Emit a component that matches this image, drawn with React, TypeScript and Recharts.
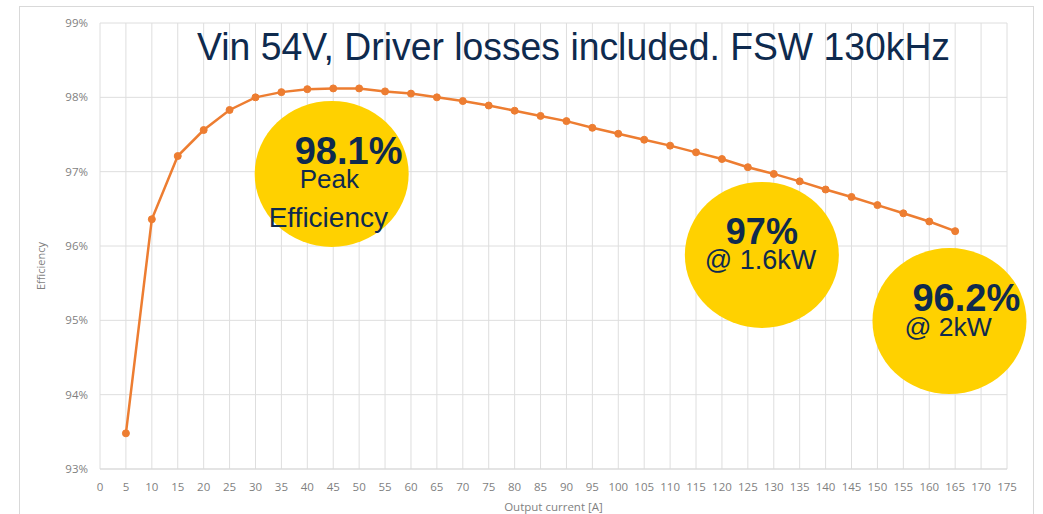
import React from 'react';
import { LineChart, Line, XAxis, YAxis, CartesianGrid, ReferenceDot, Label } from 'recharts';

// output current [A]
const currents = [5, 10, 15, 20, 25, 30, 35, 40, 45, 50, 55, 60, 65, 70, 75, 80, 85, 90, 95, 100, 105, 110, 115, 120, 125, 130, 135, 140, 145, 150, 155, 160, 165];
// efficiency [%]
const efficiency = [93.48, 96.36, 97.21, 97.56, 97.83, 98.0, 98.07, 98.11, 98.12, 98.12, 98.08, 98.05, 98.0, 97.95, 97.89, 97.82, 97.75, 97.68, 97.59, 97.51, 97.43, 97.35, 97.26, 97.17, 97.06, 96.97, 96.87, 96.76, 96.66, 96.55, 96.44, 96.33, 96.2];

const xTicks = [0, 5, 10, 15, 20, 25, 30, 35, 40, 45, 50, 55, 60, 65, 70, 75, 80, 85, 90, 95, 100, 105, 110, 115, 120, 125, 130, 135, 140, 145, 150, 155, 160, 165, 170, 175];
const yTicks = [93, 94, 95, 96, 97, 98, 99];

const title = 'Vin 54V, Driver losses included. FSW 130kHz';

// yellow call-out bubbles, anchored in data coordinates
const callouts = [
  {
    x: 44.7, y: 96.97,
    lines: [
      { text: '98.1%', dx: -37, dy: -10, size: 38, bold: true },
      { text: 'Peak', dx: -32, dy: 14, size: 26, bold: false },
      { text: 'Efficiency', dx: -63, dy: 53, size: 28, bold: false },
    ],
  },
  {
    x: 127.7, y: 95.88,
    lines: [
      { text: '97%', dx: -36, dy: -11, size: 36, bold: true },
      { text: '@ 1.6kW', dx: -57, dy: 14, size: 27, bold: false },
    ],
  },
  {
    x: 163.9, y: 94.99,
    lines: [
      { text: '96.2%', dx: -37, dy: -10, size: 38, bold: true },
      { text: '@ 2kW', dx: -45, dy: 15, size: 26.5, bold: false },
    ],
  },
];

const NAVY = '#0E2A4E';
const YELLOW = '#FFD100';
const AXIS_TEXT = '#7F7F7F';

const Bubble = ({ cx, cy, lines }) => {
  if (cx == null || cy == null) return null;
  return (
    <g>
      <ellipse cx={cx} cy={cy} rx={77} ry={73} fill={YELLOW} />
      {lines.map((l, i) => (
        <text
          key={i}
          x={cx + l.dx}
          y={cy + l.dy}
          fontSize={l.size}
          fontWeight={l.bold ? 'bold' : 'normal'}
          fontFamily="'Liberation Sans', Arial, sans-serif"
          fill={NAVY}
        >
          {l.text}
        </text>
      ))}
    </g>
  );
};

export default function App() {
  const data = currents.map((c, i) => ({ current: c, eff: efficiency[i] }));

  const tickStyle = { fill: AXIS_TEXT, fontSize: 11.5, fontFamily: "'Open Sans', sans-serif" };

  return (
    <div style={{ position: 'absolute', left: 0, top: 0, width: 1043, height: 514, background: '#fff', overflow: 'hidden' }}>
      <div style={{
        position: 'absolute', left: 19, top: 6, width: 1015, height: 530,
        border: '1px solid #D9D9D9', boxSizing: 'border-box'
      }} />
      <div style={{ position: 'absolute', left: 0, top: 0 }}>
        <LineChart
          width={1043}
          height={514}
          data={data}
          margin={{ top: 23, right: 36, bottom: 0, left: 20 }}
        >
          <CartesianGrid stroke="#DEDEDE" strokeWidth={1} />
          <XAxis
            dataKey="current"
            type="number"
            domain={[0, 175]}
            ticks={xTicks}
            interval={0}
            tickLine={false}
            axisLine={{ stroke: '#D9D9D9' }}
            tick={tickStyle}
            tickMargin={8}
            height={45}
          >
            <Label
              value="Output current [A]"
              position="insideBottom"
              offset={3}
              fill={AXIS_TEXT}
              fontSize={11.5}
              fontFamily="'Open Sans', sans-serif"
            />
          </XAxis>
          <YAxis
            type="number"
            domain={[93, 99]}
            ticks={yTicks}
            interval={0}
            tickFormatter={(v) => `${v}%`}
            tickLine={false}
            axisLine={false}
            tick={tickStyle}
            tickMargin={6}
            width={80}
          >
            <Label
              content={({ viewBox }) => {
                const lx = viewBox.x + 20;
                const ly = viewBox.y + viewBox.height / 2 + 20;
                return (
                  <text
                    x={lx}
                    y={ly}
                    transform={`rotate(-90 ${lx} ${ly})`}
                    textAnchor="middle"
                    dominantBaseline="central"
                    fill={AXIS_TEXT}
                    fontSize={11}
                    fontFamily="'Open Sans', sans-serif"
                  >
                    Efficiency
                  </text>
                );
              }}
            />
          </YAxis>
          <Line
            dataKey="eff"
            stroke="#ED7D31"
            strokeWidth={2.5}
            dot={{ r: 3.5, fill: '#ED7D31', stroke: '#ED7D31', strokeWidth: 1 }}
            activeDot={false}
            isAnimationActive={false}
          />
          {callouts.map((c, i) => (
            <ReferenceDot
              key={i}
              x={c.x}
              y={c.y}
              r={75}
              shape={(p) => <Bubble cx={p.cx} cy={p.cy} lines={c.lines} />}
            />
          ))}
        </LineChart>
      </div>
      <svg width={1043} height={514} style={{ position: 'absolute', left: 0, top: 0, pointerEvents: 'none' }}>
        <text
          x={197}
          y={60}
          fontSize={38}
          textLength={753}
          lengthAdjust="spacingAndGlyphs"
          fontFamily="'Liberation Sans', Arial, sans-serif"
          fill={NAVY}
        >
          {title}
        </text>
      </svg>
    </div>
  );
}
